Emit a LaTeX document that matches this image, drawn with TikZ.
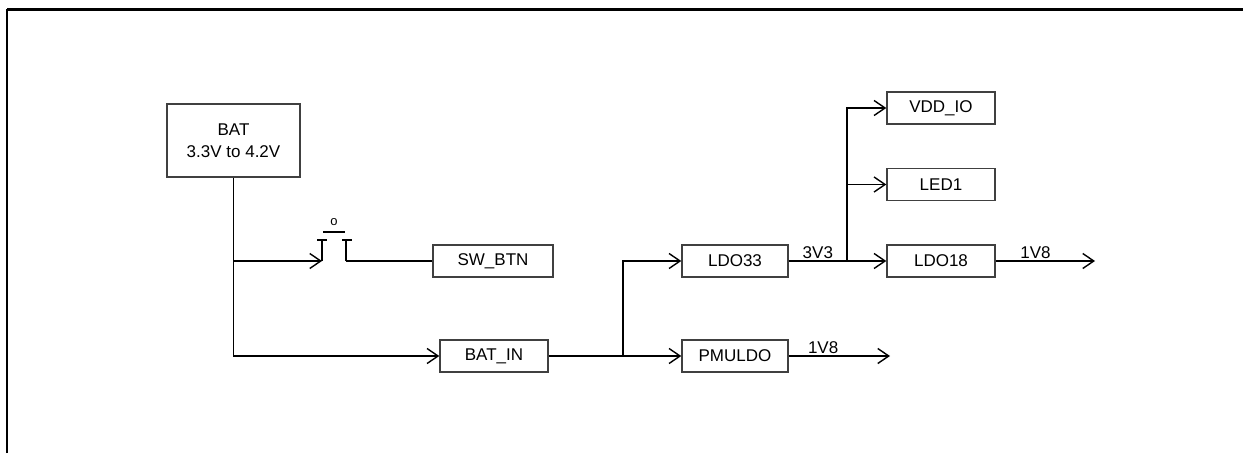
\documentclass[tikz,border=0pt]{standalone}
\usepackage{fontspec}
\setmainfont{Liberation Sans}
\usetikzlibrary{arrows.meta,positioning}
\begin{document}
\begin{tikzpicture}[x=1pt,y=-1pt,line width=1.4pt,
	block/.style={draw=black!75, line width=1.4pt, minimum height=32pt, inner sep=0pt, font=\fontsize{17}{22}\selectfont},
	arr/.style={-{Straight Barb[length=11pt,width=15pt]}},
	lbl/.style={font=\fontsize{17}{19}\selectfont, inner sep=2pt}]
	\useasboundingbox (0,0) rectangle (1243,453);
	% frame
	\draw[line width=3pt] (7,9) -- (1243,9);
	\draw[line width=2pt] (7,453) -- (7,9);
	% blocks
	\node[block, minimum width=133pt, minimum height=73pt, align=center] (bat) at (233.5,140.5) {BAT\\3.3V to 4.2V};
	\node[block, minimum width=120pt] (swbtn) at (493,261) {SW\_BTN};
	\node[block, minimum width=108pt] (batin) at (494,356) {BAT\_IN};
	\node[block, minimum width=106pt] (ldo33) at (735,261) {LDO33};
	\node[block, minimum width=106pt] (pmuldo) at (735,356) {PMULDO};
	\node[block, minimum width=108pt] (vddio) at (941,108) {VDD\_IO};
	\node[block, minimum width=108pt] (led1) at (941,184.5) {LED1};
	\node[block, minimum width=108pt] (ldo18) at (941,261) {LDO18};
	% push button
	\coordinate (swin) at (322,261);
	\coordinate (swout) at (346,261);
	\draw (swin) -- (322,240) (317,240) -- (327,240);
	\draw (swout) -- (346,240) (342,240) -- (352,240);
	\draw (323,232) -- (345,232);
	\node[lbl, font=\fontsize{13}{15}\selectfont] (swo) at (334,222) {o};
	% battery rail
	\draw[arr] (bat.south) |- (swin);
	\draw (swout) -- (swbtn.west);
	\draw[arr] (bat.south) |- (batin.west);
	% regulators
	\coordinate (j1) at (623,356);
	\draw (batin.east) -- (j1);
	\draw[arr] (j1) -- (pmuldo.west);
	\draw[arr] (j1) |- (ldo33.west);
	\coordinate (j2) at (847,261);
	\draw (ldo33.east) -- (j2) node[lbl, midway, above] {3V3};
	\draw[arr] (j2) -- (ldo18.west);
	\draw[arr] (j2) |- (vddio.west);
	\draw[arr] (j2) |- (led1.west);
	% outputs
	\coordinate (out1) at (890,356);
	\coordinate (out2) at (1095,261);
	\draw[arr] (pmuldo.east) -- (out1) node[lbl, pos=0.34, above] {1V8};
	\draw[arr] (ldo18.east) -- (out2) node[lbl, pos=0.4, above] {1V8};
\end{tikzpicture}
\end{document}
